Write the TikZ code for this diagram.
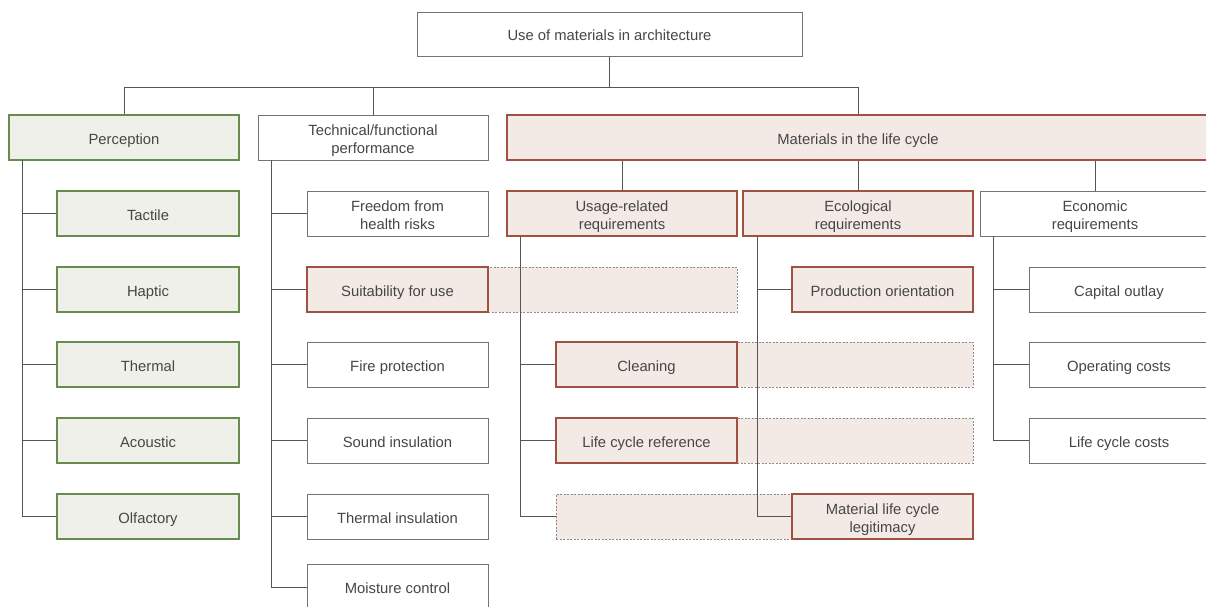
\documentclass[tikz,border=0pt]{standalone}
\usepackage{fontspec}
\setmainfont{Liberation Sans}
% label text: one or two centred lines, baseline-centred in the box
\newcommand{\lbl}[1]{\raisebox{-6.5pt}[0pt][0pt]{\begin{tabular}{@{}c@{}}#1\end{tabular}}}
\begin{document}
\definecolor{txt}{RGB}{70,70,70}
\definecolor{grn}{RGB}{104,140,78}
\definecolor{grnfill}{RGB}{238,240,233}
\definecolor{rd}{RGB}{160,82,66}
\definecolor{rdfill}{RGB}{243,234,230}
\definecolor{gry}{RGB}{115,115,115}
\definecolor{dgry}{RGB}{140,140,140}
\definecolor{conn}{RGB}{85,85,85}
\tikzset{
  base/.style={draw, inner sep=0pt, text=txt,
    font=\fontsize{14.8}{18}\selectfont, minimum height=45pt},
  gbox/.style={base, draw=grn, fill=grnfill, line width=1.6pt},
  wbox/.style={base, draw=gry, fill=white, line width=1pt},
  rbox/.style={base, draw=rd, fill=rdfill, line width=1.6pt},
  dbox/.style={draw=dgry, fill=rdfill, line width=0.8pt, dash pattern=on 2pt off 1.5pt,
    inner sep=0pt, minimum height=45pt},
  link/.style={draw=conn, line width=1pt},
}
\begin{tikzpicture}[x=1pt, y=-1pt]
\clip (0,0) rectangle (1206,606);
\fill[white] (0,0) rectangle (1206,606);

% dashed extensions behind the coloured boxes
\node[dbox, minimum width=249pt] (sext) at (612.5,289.5) {};
\node[dbox, minimum width=236pt] (cext) at (855,364.5) {};
\node[dbox, minimum width=236pt] (lext) at (855,440.5) {};
\node[dbox, minimum width=236pt] (bext) at (674,516.5) {};

% top level
\node[wbox, minimum width=385pt, minimum height=44pt] (top) at (609.5,34) {\lbl{Use of materials in architecture}};
\node[gbox, minimum width=230pt] (perc) at (124,137.5) {\lbl{Perception}};
\node[wbox, minimum width=230pt] (tech) at (373,137.5) {\lbl{Technical/functional\\performance}};
\node[rbox, minimum width=702pt] (mat) at (858,137.5) {\lbl{Materials in the life cycle}};

% perception
\node[gbox, minimum width=182pt] (tac) at (148,213.5) {\lbl{Tactile}};
\node[gbox, minimum width=182pt] (hap) at (148,289.5) {\lbl{Haptic}};
\node[gbox, minimum width=182pt] (the) at (148,364.5) {\lbl{Thermal}};
\node[gbox, minimum width=182pt] (aco) at (148,440.5) {\lbl{Acoustic}};
\node[gbox, minimum width=182pt] (olf) at (148,516.5) {\lbl{Olfactory}};

% technical/functional performance
\node[wbox, minimum width=181pt] (free) at (397.5,213.5) {\lbl{Freedom from\\health risks}};
\node[rbox, minimum width=181pt] (suit) at (397.5,289.5) {\lbl{Suitability for use}};
\node[wbox, minimum width=181pt] (fire) at (397.5,364.5) {\lbl{Fire protection}};
\node[wbox, minimum width=181pt] (sound) at (397.5,440.5) {\lbl{Sound insulation}};
\node[wbox, minimum width=181pt] (tins) at (397.5,516.5) {\lbl{Thermal insulation}};
\node[wbox, minimum width=181pt, minimum height=46pt] (moist) at (397.5,587) {\lbl{Moisture control}};

% life cycle groups
\node[rbox, minimum width=230pt] (usage) at (622,213.5) {\lbl{Usage-related\\requirements}};
\node[rbox, minimum width=230pt] (eco) at (858,213.5) {\lbl{Ecological\\requirements}};
\node[wbox, minimum width=230pt] (econ) at (1095,213.5) {\lbl{Economic\\requirements}};

\node[rbox, minimum width=181pt] (clean) at (646.5,364.5) {\lbl{Cleaning}};
\node[rbox, minimum width=181pt] (lcr) at (646.5,440.5) {\lbl{Life cycle reference}};
\node[rbox, minimum width=181pt] (prod) at (882.5,289.5) {\lbl{Production orientation}};
\node[rbox, minimum width=181pt] (legit) at (882.5,516.5) {\lbl{Material life cycle\\legitimacy}};

\node[wbox, minimum width=180pt] (cap) at (1119,289.5) {\lbl{Capital outlay}};
\node[wbox, minimum width=180pt] (oper) at (1119,364.5) {\lbl{Operating costs}};
\node[wbox, minimum width=180pt] (lcc) at (1119,440.5) {\lbl{Life cycle costs}};

% connectors
\coordinate (bus) at (0,87);
\draw[link] (top.south) -- (top.south |- bus);
\draw[link] (perc.north) -- (perc.north |- bus) -| (mat.north);
\draw[link] (tech.north) -- (tech.north |- bus);

\coordinate (pt) at (22,160);
\draw[link] (pt) |- (olf.west);
\foreach \n in {tac,hap,the,aco} \draw[link] (\n.west) -- (\n.west -| pt);

\coordinate (tt) at (271,160);
\draw[link] (tt) |- (moist.west);
\foreach \n in {free,suit,fire,sound,tins} \draw[link] (\n.west) -- (\n.west -| tt);

\foreach \n in {usage,eco,econ} \draw[link] (\n.north) -- (\n.north |- mat.south);

\coordinate (ut) at (520,236);
\draw[link] (ut) |- (bext.west);
\foreach \n in {clean,lcr} \draw[link] (\n.west) -- (\n.west -| ut);

\coordinate (et) at (757,236);
\draw[link] (et) |- (legit.west);
\draw[link] (prod.west) -- (prod.west -| et);

\coordinate (ct) at (993,236);
\draw[link] (ct) |- (lcc.west);
\foreach \n in {cap,oper} \draw[link] (\n.west) -- (\n.west -| ct);
\end{tikzpicture}
\end{document}
